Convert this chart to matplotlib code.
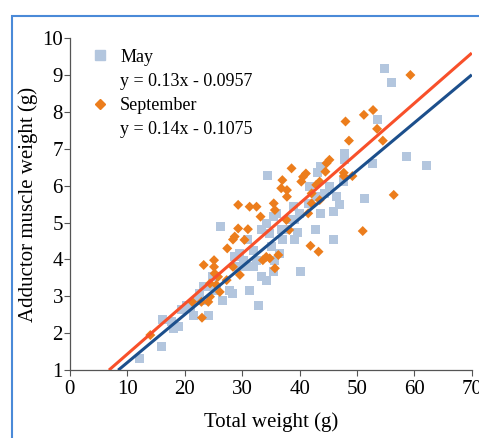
import numpy as np
import matplotlib
matplotlib.use('Agg')
import matplotlib.pyplot as plt
from matplotlib.lines import Line2D
from matplotlib.patches import Rectangle

plt.rcParams['font.family'] = ['Liberation Serif', 'DejaVu Serif']

# May (squares)
may_x = [54.8, 56.0, 53.5, 52.7, 58.6, 62.1, 51.3, 47.9, 47.9, 47.6, 45.9, 45.9, 46.4, 47.0,
         43.6, 43.2, 43.6, 42.7, 41.8, 40.1, 39.6, 39.2, 38.9, 38.3, 37.1, 36.8, 35.9, 35.4,
         34.8, 35.1, 35.7, 35.4, 34.4, 34.2, 33.4, 33.4, 34.2, 32.8, 32.5, 31.9, 31.3, 31.0,
         30.2, 30.7, 29.6, 28.7, 28.4, 27.8, 26.6, 26.2, 25.6, 24.8, 24.1, 23.3, 24.2, 23.2,
         21.5, 21.0, 20.3, 19.4, 18.9, 18.0, 17.7, 16.2, 15.9, 12.1, 22.0, 22.6, 31.9, 29.3,
         36.5, 37.7, 39.2, 40.0, 44.4, 45.2, 42.9, 41.5]
may_y = [9.18, 8.79, 7.80, 6.59, 6.79, 6.54, 5.65, 6.88, 6.70, 6.11, 5.29, 4.54, 5.70, 5.48,
         6.52, 6.35, 5.25, 4.80, 5.97, 3.67, 4.73, 4.54, 5.43, 5.07, 4.53, 4.80, 5.25, 5.16,
         4.71, 4.35, 3.98, 3.67, 6.27, 3.44, 3.53, 4.80, 4.98, 2.74, 3.98, 4.25, 3.17, 4.53,
         3.98, 3.80, 4.16, 4.07, 3.08, 3.17, 2.88, 4.89, 3.17, 3.53, 3.26, 3.26, 2.47, 2.90,
         2.49, 2.67, 2.76, 2.63, 2.18, 2.13, 2.31, 2.36, 1.63, 1.32, 2.90, 3.08, 3.80, 3.80,
         4.16, 4.80, 5.07, 5.25, 5.80, 5.97, 5.70, 5.52]

# September (diamonds)
sep_x = [59.3, 52.8, 51.2, 48.0, 53.5, 48.6, 54.5, 56.4, 51.0, 47.7, 47.7, 49.2, 45.2, 44.7,
         44.5, 43.5, 42.9, 43.5, 43.3, 41.9, 42.1, 42.1, 41.5, 41.1, 40.6, 40.3, 38.6, 37.8,
         37.8, 37.0, 36.8, 37.7, 38.2, 35.5, 35.7, 33.2, 32.5, 31.3, 31.0, 30.4, 29.3, 29.3,
         28.7, 28.4, 27.4, 33.6, 34.2, 34.8, 36.3, 35.7, 29.6, 28.4, 27.3, 25.8, 25.2, 25.1,
         25.1, 23.3, 25.5, 26.1, 24.4, 24.1, 22.9, 23.0, 21.3, 14.0, 24.4]
sep_y = [9.00, 8.05, 7.92, 7.74, 7.54, 7.22, 7.22, 5.75, 4.77, 6.35, 6.26, 6.26, 6.70, 6.61,
         6.38, 6.11, 6.02, 5.61, 4.21, 4.37, 5.79, 5.52, 5.25, 6.33, 6.24, 6.11, 6.47, 5.88,
         5.70, 6.15, 5.93, 5.07, 4.80, 5.52, 5.34, 5.16, 5.43, 5.43, 4.82, 4.53, 5.48, 4.84,
         4.62, 4.54, 4.30, 3.98, 4.07, 4.03, 4.12, 3.76, 3.58, 3.80, 3.44, 3.53, 3.62, 3.98,
         3.80, 3.85, 3.31, 3.12, 2.99, 2.85, 2.85, 2.42, 2.85, 1.95, 3.35]

# fitted lines as drawn (slope, intercept, x start)
may_fit = (0.130, -0.094, 8.4)
sep_fit = (0.136, 0.075, 6.8)

may_eq = 'y = 0.13x - 0.0957'
sep_eq = 'y = 0.14x - 0.1075'

c_may = '#b3c6de'
c_sep = '#ec7d1c'
c_may_line = '#1c4f8c'
c_sep_line = '#f8502a'

fig = plt.figure(figsize=(4.79, 4.38), dpi=100)
ax = fig.add_axes([0.146, 0.155, 0.839, 0.758])

ax.scatter(may_x, may_y, marker='s', s=42, color=c_may, edgecolors='none', zorder=2)
ax.scatter(sep_x, sep_y, marker='D', s=26, color=c_sep, edgecolors='none', zorder=3)

for (m, b, x0), c in [(may_fit, c_may_line), (sep_fit, c_sep_line)]:
    xs = np.array([x0, 70])
    ax.plot(xs, m * xs + b, color=c, lw=2.2, zorder=4, solid_capstyle='butt')

ax.set_xlim(0, 70)
ax.set_ylim(1, 10)
ax.set_xticks(range(0, 71, 10))
ax.set_yticks(range(1, 11))
for s in ['top', 'right']:
    ax.spines[s].set_visible(False)
for s in ['left', 'bottom']:
    ax.spines[s].set_color('#555555')
    ax.spines[s].set_linewidth(0.9)
ax.tick_params(axis='both', labelsize=15, length=4, color='#555555')
ax.tick_params(axis='x', pad=3)
ax.tick_params(axis='y', pad=1)
ax.set_xlabel('Total weight (g)', fontsize=15, labelpad=10)
ax.set_ylabel('Adductor muscle weight (g)', fontsize=15, labelpad=3)

handles = [
    Line2D([], [], marker='s', ls='', color=c_may, markersize=7.5),
    Line2D([], [], marker='', ls=''),
    Line2D([], [], marker='D', ls='', color=c_sep, markersize=5.5),
    Line2D([], [], marker='', ls=''),
]
labels = ['May', may_eq, 'September', sep_eq]
ax.legend(handles, labels, loc='upper left', bbox_to_anchor=(0.035, 0.99), frameon=False,
          fontsize=13, handlelength=1.0, handletextpad=0.6, labelspacing=0.4,
          borderaxespad=0)

# blue frame around the figure
fig.patches.append(Rectangle((12 / 479, -0.1), 1.2, 1 - 16 / 438 + 0.1,
                             transform=fig.transFigure, fill=False,
                             edgecolor='#4a8ad8', lw=1.5))

fig.savefig('out.png', dpi=100)
